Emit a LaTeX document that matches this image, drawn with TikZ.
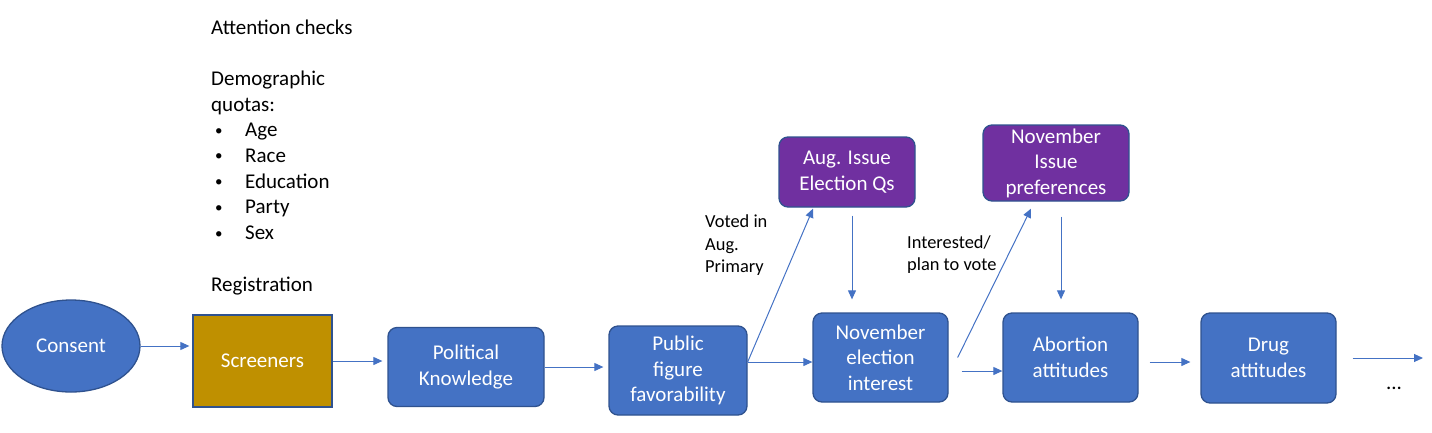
\documentclass[tikz,border=0pt]{standalone}
\usepackage{fontspec}
\setmainfont{Carlito}
\usetikzlibrary{arrows.meta,shapes.geometric}
\definecolor{boxblue}{HTML}{4472C4}
\definecolor{boxline}{HTML}{2F528F}
\definecolor{qpurple}{HTML}{7030A0}
\definecolor{scrgold}{HTML}{BF9000}
\newcommand{\bigfont}{\fontsize{21}{25.6}\selectfont}
\newcommand{\smallfont}{\fontsize{18.4}{22.5}\selectfont}
\tikzset{
  block/.style={draw=boxline, fill=boxblue, line width=1.3, rounded corners=9, text=white, align=center, inner sep=0, font=\bigfont},
  qblock/.style={block, fill=qpurple},
  flow/.style={draw=boxblue, line width=1, -{Triangle[length=9,width=8]}},
  note/.style={inner sep=0, anchor=base west, font=\bigfont},
  lab/.style={inner sep=0, anchor=west, align=left, font=\smallfont}
}
\begin{document}
\begin{tikzpicture}[x=1pt,y=-1pt]
\useasboundingbox (0,0) rectangle (1432,432);

% screener notes
\node[note] (att) at (211,34) {Attention checks};
\node[note] (demo) at (211,85.4) {Demographic};
\node[note] (quota) at (211,111.1) {quotas:};
\foreach \t [count=\i] in {Age,Race,Education,Party,Sex}{
  \node[note, font=\fontsize{15}{18}\selectfont] (bul\i) at (215,109.5+25.7*\i) {\textbullet};
  \node[note] (item\i) at (245,111.1+25.7*\i) {\t};
}
\node[note] (reg) at (211,291) {Registration};

% main flow
\node[ellipse, draw=boxline, fill=boxblue, line width=1.3, text=white, font=\bigfont, minimum width=138, minimum height=92, inner sep=0] (consent) at (71,346) {Consent};
\node[block, rounded corners=0, fill=scrgold, minimum width=139, minimum height=92] (scr) at (262.5,361) {Screeners};
\node[block, minimum width=156, minimum height=79] (pk) at (466,367) {Political\\Knowledge};
\node[block, minimum width=138, minimum height=89] (pf) at (678,370.5) {Public\\figure\\favorability};
\node[block, minimum width=135, minimum height=89] (nov) at (880.5,357.5) {November\\election\\interest};
\node[block, minimum width=135, minimum height=89] (abo) at (1070.5,357.5) {Abortion\\attitudes};
\node[block, minimum width=135, minimum height=90] (drug) at (1268.5,358) {Drug\\attitudes};

% issue questions
\node[qblock, minimum width=136, minimum height=70] (augq) at (847,172) {Aug. Issue\\Election Qs};
\node[qblock, minimum width=146, minimum height=76] (novq) at (1056,163) {November\\Issue\\preferences};

\node[lab] (voted) at (705,245.5) {Voted in\\Aug.\\Primary};
\node[lab] (inter) at (907,254.5) {Interested/\\plan to vote};

\coordinate (more) at (1423,358);
\node[inner sep=0, font=\bigfont] (dots) at (1394,388) {...};

% connectors
\draw[flow, shorten >=3] (consent.east) -- (consent.east -| scr.west);
\draw[flow, shorten >=5] (scr.east) -- (scr.east -| pk.west);
\draw[flow, shorten >=5] (pk.east) -- (pk.east -| pf.west);
\draw[flow] ([yshift=8.5]pf.east) -- ([yshift=8.5]pf.east -| nov.west);
\draw[flow] ([yshift=8.5]pf.east) -- ([xshift=-34,yshift=-1]augq.south);
\draw[flow, shorten <=8, shorten >=13] ([xshift=5]augq.south) -- ([xshift=5]augq.south |- nov.north);
\draw[flow] ([xshift=9]nov.east) -- ([xshift=-25,yshift=-7]novq.south);
\draw[flow, shorten <=13] ([yshift=-13.5]nov.east) -- ([yshift=-13.5]abo.west);
\draw[flow, shorten <=15, shorten >=13] ([xshift=5]novq.south) -- ([xshift=5]novq.south |- abo.north);
\draw[flow, shorten <=11, shorten >=10] ([yshift=-4.5]abo.east) -- ([yshift=-4.5]abo.east -| drug.west);
\draw[flow, shorten <=16] (drug.east) -- (more);
\end{tikzpicture}
\end{document}
